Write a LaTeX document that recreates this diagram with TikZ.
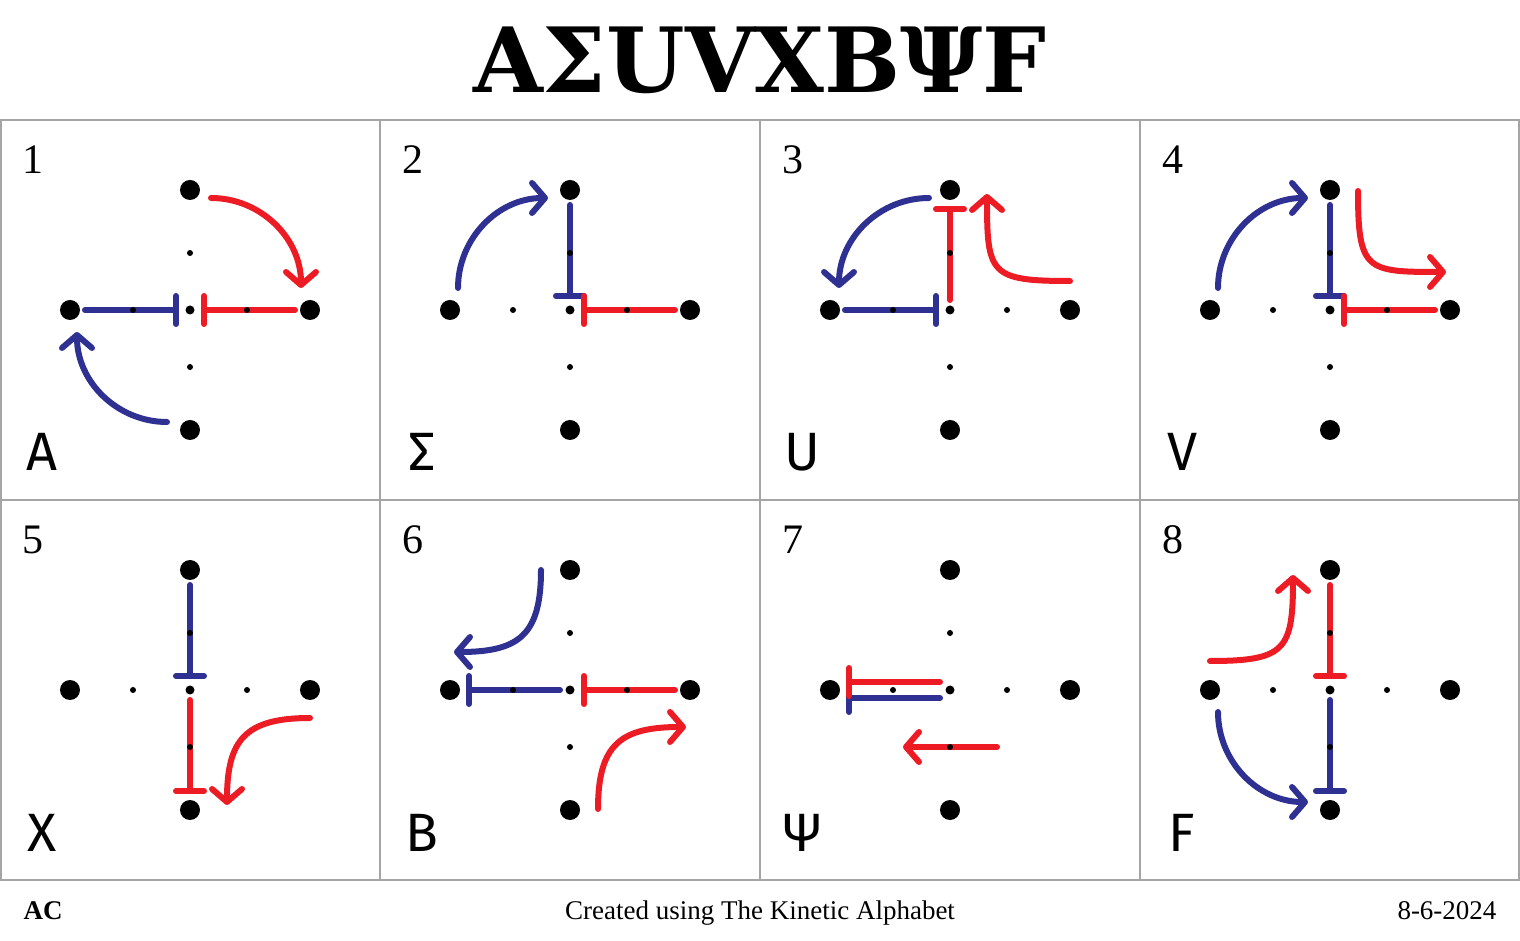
\documentclass[tikz,border=0pt]{standalone}
\usepackage{fontspec}
\setmainfont{Liberation Serif}
\newfontfamily\titlefont{DejaVu Serif}
\newfontfamily\letterfont{Fira Sans}
\usepackage{tikz}
\usetikzlibrary{arrows.meta, calc, backgrounds}

\tikzset{
    bigdot/.style={circle, fill=black, minimum size=20pt, inner sep=0pt, outer sep=0pt},
    middot/.style={circle, fill=black, minimum size=9pt, inner sep=0pt, outer sep=0pt},
    smalldot/.style={circle, fill=black, minimum size=6pt, inner sep=0pt, outer sep=0pt},
    stroke/.style={line width=6pt, line cap=round},
    bluestroke/.style={stroke, draw=kablue},
    redstroke/.style={stroke, draw=kared},
    arrowend/.style={-{Straight Barb[length=13pt, width=30pt, round]}},
    barend/.style={-{Bar[width=28pt, round]}},
    tocenter/.style={shorten <=15pt, shorten >=11pt},
    fromcenter/.style={shorten <=10pt, shorten >=16pt}
}

\begin{document}
\begin{tikzpicture}[x=1pt, y=1pt]
    \definecolor{kablue}{RGB}{46,49,146}
    \definecolor{kared}{RGB}{237,28,36}
    \definecolor{gridgray}{RGB}{165,165,165}
    \useasboundingbox (0,0) rectangle (1520,940);
    % title
    \node[font=\titlefont\bfseries\fontsize{90}{90}\selectfont] (title) at (760,880) {AΣUVXBΨF};
    % grid
    \draw[gridgray, line width=1.5pt] (1,60) rectangle (1519,820);
    \draw[gridgray, line width=1.5pt] (0,440) -- (1520,440);
    \foreach \x in {380,760,1140}{
        \draw[gridgray, line width=1.5pt] (\x,60) -- (\x,820);
    }
    % dots and labels: panel / centre x / centre y / letter
    \foreach \k/\cx/\cy/\glyph in {%
        1/190/630/A, 2/570/630/Σ, 3/950/630/U, 4/1330/630/V,
        5/190/250/X, 6/570/250/B, 7/950/250/Ψ, 8/1330/250/F%
    }{
        \begin{scope}[shift={(\cx,\cy)}]
            \node[bigdot] (top\k) at (0,120) {};
            \node[bigdot] (left\k) at (-120,0) {};
            \node[bigdot] (right\k) at (120,0) {};
            \node[bigdot] (bottom\k) at (0,-120) {};
            \node[middot] (mid\k) at (0,0) {};
            \node[smalldot] (mt\k) at (0,57) {};
            \node[smalldot] (ml\k) at (-57,0) {};
            \node[smalldot] (mr\k) at (57,0) {};
            \node[smalldot] (mb\k) at (0,-57) {};
            \node[anchor=base west, font=\fontsize{42}{42}\selectfont] (num\k) at (-171,136) {\k};
            \node[anchor=base, font=\letterfont\fontsize{54}{54}\selectfont] (glyph\k) at (-148,-161) {\glyph};
        \end{scope}
    }
    % strokes, under the dots
    \begin{scope}[on background layer]
        % 1: A
        \draw[redstroke, arrowend] ($(top1)+(21,-8)$) arc[start angle=90, end angle=0, radius=90];
        \draw[bluestroke, barend, tocenter] (left1.center) -- (mid1.center);
        \draw[redstroke, barend, tocenter] (right1.center) -- (mid1.center);
        \draw[bluestroke, arrowend] ($(bottom1)+(-23,8)$) arc[start angle=-90, end angle=-180, radius=90];
        % 2: Sigma
        \draw[bluestroke, arrowend] ($(left2)+(8,22)$) arc[start angle=180, end angle=90, radius=90];
        \draw[bluestroke, barend, tocenter] (top2.center) -- (mid2.center);
        \draw[redstroke, barend, tocenter] (right2.center) -- (mid2.center);
        % 3: U
        \draw[bluestroke, arrowend] ($(top3)+(-21,-8)$) arc[start angle=90, end angle=180, radius=90];
        \draw[bluestroke, barend, tocenter] (left3.center) -- (mid3.center);
        \draw[redstroke, barend, fromcenter] (mid3.center) -- (top3.center);
        \draw[redstroke, arrowend] ($(right3)+(0,29)$) .. controls +(-80,0) and +(0,-80) .. ($(top3)+(37,-4)$);
        % 4: V
        \draw[bluestroke, arrowend] ($(left4)+(8,22)$) arc[start angle=180, end angle=90, radius=90];
        \draw[bluestroke, barend, tocenter] (top4.center) -- (mid4.center);
        \draw[redstroke, barend, tocenter] (right4.center) -- (mid4.center);
        \draw[redstroke, arrowend] ($(top4)+(28,-1)$) .. controls +(0,-80) and +(-80,0) .. ($(right4)+(-4,38)$);
        % 5: X
        \draw[bluestroke, barend, tocenter] (top5.center) -- (mid5.center);
        \draw[redstroke, barend, fromcenter] (mid5.center) -- (bottom5.center);
        \draw[redstroke, arrowend] ($(right5)+(0,-28)$) .. controls +(-65,0) and +(0,65) .. ($(bottom5)+(37,5)$);
        % 6: B
        \draw[bluestroke, arrowend] ($(top6)+(-29,0)$) .. controls +(0,-65) and +(65,0) .. ($(left6)+(4,38)$);
        \draw[bluestroke, barend, fromcenter] (mid6.center) -- (left6.center);
        \draw[redstroke, barend, tocenter] (right6.center) -- (mid6.center);
        \draw[redstroke, arrowend] ($(bottom6)+(28,1)$) .. controls +(0,65) and +(-65,0) .. ($(right6)+(-4,-37)$);
        % 7: Psi
        \draw[bluestroke, barend, fromcenter] ($(mid7)+(0,-8)$) -- ($(left7)+(0,-8)$);
        \draw[redstroke, barend, fromcenter] ($(mid7)+(0,8)$) -- ($(left7)+(0,8)$);
        \draw[redstroke, arrowend] ($(mb7)+(47,0)$) -- ($(mb7)+(-47,0)$);
        % 8: F
        \draw[redstroke, arrowend] ($(left8)+(0,29)$) .. controls +(75,0) and +(0,-75) .. ($(top8)+(-37,-5)$);
        \draw[redstroke, barend, tocenter] (top8.center) -- (mid8.center);
        \draw[bluestroke, barend, fromcenter] (mid8.center) -- (bottom8.center);
        \draw[bluestroke, arrowend] ($(left8)+(8,-22)$) arc[start angle=180, end angle=270, radius=90];
    \end{scope}
    % footer
    \node[anchor=base west, font=\bfseries\fontsize{27}{27}\selectfont] (author) at (20,21) {AC};
    \node[anchor=base, font=\fontsize{27}{27}\selectfont] (credit) at (760,21) {Created using The Kinetic Alphabet};
    \node[anchor=base east, font=\fontsize{27}{27}\selectfont] (date) at (1500,21) {8-6-2024};
\end{tikzpicture}
\end{document}
